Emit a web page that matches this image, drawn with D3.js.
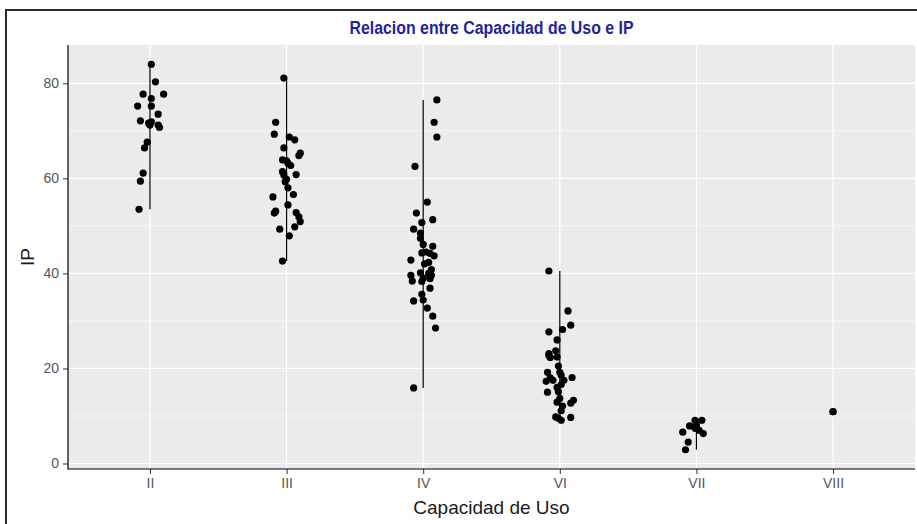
<!DOCTYPE html>
<meta charset="utf-8">
<style>
    body { margin: 0; background: #fff; }
    svg { display: block; }
    .tick text { fill: #555; font-family: "Liberation Sans", Arial, sans-serif; font-size: 14px; }
    .tick line { stroke: #333; }
    .domain { display: none; }
</style>
<svg width="917" height="524"></svg>
<script src="https://d3js.org/d3.v7.min.js"></script>
<script>

var categories = ["II", "III", "IV", "VI", "VII", "VIII"];
var yTicks = [0, 20, 40, 60, 80];
var yMinor = [10, 30, 50, 70];

var ipII   = [84.0, 80.3, 77.7, 77.7, 76.8, 75.2, 75.2, 73.5, 72.1, 71.6, 71.9, 71.2, 71.2, 70.7, 67.6, 66.4, 61.1, 59.4, 53.5];
var jitII  = [0.01, 0.04, -0.05, 0.10, 0.01, -0.09, 0.01, 0.06, -0.07, -0.01, 0.01, 0, 0.06, 0.07, -0.02, -0.04, -0.05, -0.07, -0.08];

var ipIII  = [81.1, 71.8, 69.3, 68.7, 68.1, 66.4, 65.3, 64.8, 63.9, 63.7, 63.2, 62.7, 61.4, 60.8, 60.7, 59.8, 59.3, 58.0, 56.1, 56.6, 54.4, 53.1, 52.7, 52.8, 51.9, 50.9, 49.8, 49.3, 47.9, 42.6];
var jitIII = [-0.02, -0.08, -0.09, 0.02, 0.06, -0.02, 0.10, 0.09, -0.03, 0, 0.01, 0.03, -0.03, 0.07, -0.02, 0, -0.01, 0.01, -0.10, 0.05, 0.01, -0.08, -0.09, 0.07, 0.09, 0.10, 0.06, -0.05, 0.02, -0.03];

var ipIV   = [76.5, 71.8, 68.7, 62.5, 55.0, 52.7, 51.3, 50.7, 49.3, 48.5, 47.4, 46.1, 45.7, 44.3, 44.5, 44.2, 43.7, 42.8, 42.3, 42.0, 40.8, 40.1, 40.0, 39.6, 39.6, 39.0, 38.4, 38.9, 38.3, 36.9, 35.6, 34.2, 34.4, 32.7, 31.0, 28.5, 15.9];
var jitIV  = [0.10, 0.08, 0.10, -0.06, 0.03, -0.05, 0.07, -0.01, -0.07, -0.02, -0.02, 0, 0.07, -0.01, 0.02, 0.05, 0.08, -0.09, 0.04, 0.01, 0.06, -0.02, 0.04, -0.09, 0.06, 0, -0.08, 0.05, -0.01, 0.05, -0.01, -0.07, 0, 0.03, 0.07, 0.09, -0.07];

var ipVI   = [40.5, 32.1, 29.1, 28.2, 27.7, 26.0, 23.7, 23.1, 22.4, 22.3, 22.7, 20.5, 19.2, 19.2, 18.0, 18.1, 18.6, 17.3, 17.5, 17.5, 16.0, 16.6, 15.0, 15.1, 13.7, 13.3, 12.7, 12.9, 12.1, 11.1, 9.8, 9.7, 9.1, 9.5];
var jitVI  = [-0.08, 0.06, 0.08, 0.02, -0.08, -0.02, -0.03, -0.08, -0.02, -0.07, -0.08, -0.01, -0.09, 0, -0.07, 0.09, 0.01, -0.10, 0.03, -0.05, -0.02, 0.01, -0.09, -0.01, 0, 0.10, 0.08, -0.02, 0.02, 0.01, -0.03, 0.08, 0.01, -0.01];

var ipVII  = [9.1, 9.1, 7.9, 8.1, 7.4, 7.0, 6.6, 6.3, 4.5, 2.9];
var jitVII = [-0.01, 0.04, -0.05, 0, -0.01, 0.02, -0.10, 0.05, -0.06, -0.08];

var ipVIII  = [10.9, 10.9];
var jitVIII = [0, 0];

var groups = [
    {cat: "II", ip: ipII, jit: jitII},
    {cat: "III", ip: ipIII, jit: jitIII},
    {cat: "IV", ip: ipIV, jit: jitIV},
    {cat: "VI", ip: ipVI, jit: jitVI},
    {cat: "VII", ip: ipVII, jit: jitVII},
    {cat: "VIII", ip: ipVIII, jit: jitVIII}
];

var points = [];
groups.forEach(function(g) {
    g.ip.forEach(function(v, i) { points.push({cat: g.cat, ip: v, jit: g.jit[i]}); });
});

var svg = d3.select("svg"),
    panel = {left: 68, right: 915, top: 45, bottom: 469};

var x = d3.scalePoint().domain(categories).range([panel.left, panel.right]).padding(0.6);
var step = x.step();

var ext = d3.extent(points, function(d) { return d.ip; });
var pad = (ext[1] - ext[0]) * 0.05;
var y = d3.scaleLinear().domain([ext[0] - pad, ext[1] + pad]).range([panel.bottom, panel.top]);

// outer frame
svg.append("rect")
    .attr("x", 6).attr("y", 10)
    .attr("width", 940).attr("height", 540)
    .attr("fill", "none").attr("stroke", "#2b2b2b").attr("stroke-width", 2);

// panel
svg.append("rect")
    .attr("x", panel.left).attr("y", panel.top)
    .attr("width", panel.right - panel.left).attr("height", panel.bottom - panel.top)
    .attr("fill", "#ebebeb");

svg.append("g").selectAll("line")
    .data(yMinor).enter().append("line")
    .attr("x1", panel.left).attr("x2", panel.right)
    .attr("y1", function(d) { return y(d); }).attr("y2", function(d) { return y(d); })
    .attr("stroke", "#fff").attr("stroke-width", 0.6);

svg.append("g").selectAll("line")
    .data(yTicks).enter().append("line")
    .attr("x1", panel.left).attr("x2", panel.right)
    .attr("y1", function(d) { return y(d); }).attr("y2", function(d) { return y(d); })
    .attr("stroke", "#fff").attr("stroke-width", 1.2);

svg.append("g").selectAll("line")
    .data(categories).enter().append("line")
    .attr("x1", function(d) { return x(d); }).attr("x2", function(d) { return x(d); })
    .attr("y1", panel.top).attr("y2", panel.bottom)
    .attr("stroke", "#fff").attr("stroke-width", 1.2);

// range lines (min to max of each group)
svg.append("g").selectAll("line")
    .data(groups).enter().append("line")
    .attr("x1", function(d) { return x(d.cat); }).attr("x2", function(d) { return x(d.cat); })
    .attr("y1", function(d) { return y(d3.min(d.ip)); })
    .attr("y2", function(d) { return y(d3.max(d.ip)); })
    .attr("stroke", "#000").attr("stroke-width", 1.2);

// jittered points
svg.append("g").selectAll("circle")
    .data(points).enter().append("circle")
    .attr("cx", function(d) { return x(d.cat) + d.jit * step; })
    .attr("cy", function(d) { return y(d.ip); })
    .attr("r", 3.6)
    .attr("fill", "#000");

// axes
svg.append("g")
    .attr("transform", "translate(0," + panel.bottom + ")")
    .call(d3.axisBottom(x).tickSize(5).tickPadding(4));

svg.append("g")
    .attr("transform", "translate(" + panel.left + ",0)")
    .call(d3.axisLeft(y).tickValues(yTicks).tickSize(5).tickPadding(4));

svg.append("line")
    .attr("x1", panel.left).attr("x2", panel.left)
    .attr("y1", panel.top).attr("y2", panel.bottom + 0.5)
    .attr("stroke", "#000").attr("stroke-width", 1.2);
svg.append("line")
    .attr("x1", panel.left).attr("x2", panel.right)
    .attr("y1", panel.bottom).attr("y2", panel.bottom)
    .attr("stroke", "#000").attr("stroke-width", 1.2);

// titles
svg.append("text")
    .attr("x", (panel.left + panel.right) / 2).attr("y", 514)
    .attr("text-anchor", "middle")
    .style("font-family", "'Liberation Sans', Arial, sans-serif")
    .style("font-size", "19px").style("fill", "#1a1a1a")
    .text("Capacidad de Uso");

svg.append("text")
    .attr("transform", "translate(33.5," + ((panel.top + panel.bottom) / 2) + ") rotate(-90)")
    .attr("text-anchor", "middle")
    .style("font-family", "'Liberation Sans', Arial, sans-serif")
    .style("font-size", "19px").style("fill", "#1a1a1a")
    .text("IP");

svg.append("text")
    .attr("x", (panel.left + panel.right) / 2).attr("y", 34)
    .attr("text-anchor", "middle")
    .attr("textLength", 284).attr("lengthAdjust", "spacingAndGlyphs")
    .style("font-family", "'Liberation Sans Narrow', 'Arial Narrow', 'Liberation Sans', sans-serif")
    .style("font-size", "18px").style("font-weight", "bold").style("fill", "#1f1fa3")
    .text("Relacion entre Capacidad de Uso e IP");

</script>
